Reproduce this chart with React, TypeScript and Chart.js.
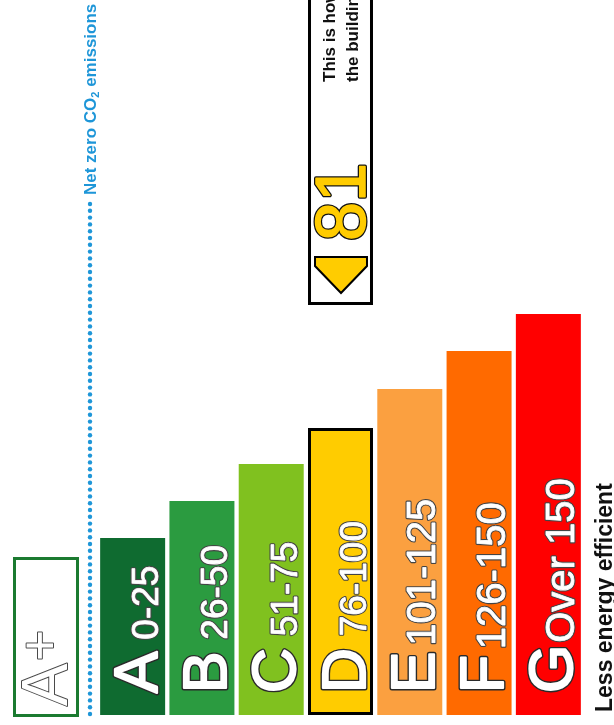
import React, { useEffect, useRef } from 'react';
import { Chart, registerables } from 'chart.js';

Chart.register(...registerables);

const W = 614;
const H = 725;
const FONT = '"Liberation Sans", Arial, sans-serif';

// ---- data ----
const BANDS = ['A', 'B', 'C', 'D', 'E', 'F', 'G'];
const RANGE_LABELS = ['0-25', '26-50', '51-75', '76-100', '101-125', '126-150', 'Over 150'];
const BAND_UPPER_LIMITS = [25, 50, 75, 100, 125, 150, Infinity];
const BAR_LENGTHS = [177, 214, 251, 287, 326, 364, 401];
const BAND_COLORS = ['#0f6b30', '#2b9b40', '#80c11f', '#ffcc00', '#fba040', '#ff6a00', '#ff0000'];
const RATING = 81;
const TOP_BAND = 'A';
const TOP_BAND_SUP = '+';
const NET_ZERO_PARTS = ['Net zero CO', '2', ' emissions'];
const LESS_LABEL = 'Less energy efficient';
const RATING_TEXT = ['This is how energy efficient', 'the building is.'];

// ---- styles ----
const RANGE_FONT = [37, 37, 37, 37, 40, 40, 40];
const RANGE_GAP = [12, 12, 12, 12, 6, 6, 2];

const ratingBand = BAND_UPPER_LIMITS.findIndex((u) => RATING <= u);

function rotText(
  ctx: CanvasRenderingContext2D,
  text: string,
  x: number,
  y: number,
  font: string,
  fill: string,
  stroke?: string,
  lw?: number,
  inner?: number
): number {
  ctx.save();
  ctx.translate(x, y);
  ctx.rotate(-Math.PI / 2);
  ctx.font = font;
  ctx.textAlign = 'left';
  ctx.textBaseline = 'alphabetic';
  ctx.lineJoin = 'round';
  if (stroke) {
    ctx.strokeStyle = stroke;
    ctx.lineWidth = lw || 2;
    ctx.strokeText(text, 0, 0);
  }
  if (inner) {
    ctx.strokeStyle = fill;
    ctx.lineWidth = inner;
    ctx.strokeText(text, 0, 0);
  }
  ctx.fillStyle = fill;
  ctx.fillText(text, 0, 0);
  const w = ctx.measureText(text).width;
  ctx.restore();
  return w;
}

const epcPlugin = {
  id: 'epcDecor',
  afterDatasetsDraw(chart: any) {
    const ctx: CanvasRenderingContext2D = chart.ctx;
    const area = chart.chartArea;
    const bottom = area.bottom;
    const meta = chart.getDatasetMeta(0);

    // band letters and ranges
    meta.data.forEach((bar: any, i: number) => {
      const cx = bar.x;
      const start = bottom - 22;
      const lw = rotText(ctx, BANDS[i], cx + 24, start, `62px ${FONT}`, '#ffffff', '#2a2a2a', 5, 2.2);
      rotText(
        ctx,
        RANGE_LABELS[i],
        cx + 25.5,
        start - lw - RANGE_GAP[i],
        `${RANGE_FONT[i]}px ${FONT}`,
        '#ffffff',
        '#444444',
        3,
        0.8
      );
    });

    // A+ box
    ctx.save();
    ctx.strokeStyle = '#1b7a30';
    ctx.lineWidth = 3;
    ctx.strokeRect(14.5, 558.5, 63, 157);
    ctx.restore();
    const aw = rotText(ctx, TOP_BAND, 67, 706, `64px ${FONT}`, '#ffffff', '#4a4a4a', 2);
    rotText(ctx, TOP_BAND_SUP, 58, 706 - aw - 2, `54px ${FONT}`, '#ffffff', '#4a4a4a', 2);

    // dotted net zero line
    ctx.save();
    ctx.fillStyle = '#1e96d8';
    for (let y = 714; y >= 204; y -= 6.8) {
      ctx.beginPath();
      ctx.arc(90, y, 2.2, 0, Math.PI * 2);
      ctx.fill();
    }
    ctx.restore();
    let ny = 195;
    ny -= rotText(ctx, NET_ZERO_PARTS[0], 96, ny, `bold 17px ${FONT}`, '#1e96d8');
    ny -= rotText(ctx, NET_ZERO_PARTS[1], 99, ny, `bold 11px ${FONT}`, '#1e96d8');
    rotText(ctx, NET_ZERO_PARTS[2], 96, ny, `bold 17px ${FONT}`, '#1e96d8');

    // rating box
    const rb = meta.data[ratingBand];
    const left = rb.x - rb.width / 2;
    const right = rb.x + rb.width / 2;
    ctx.save();
    ctx.strokeStyle = '#000000';
    ctx.lineWidth = 3;
    ctx.strokeRect(left + 1.5, -10, right - left - 3, 313.5);
    // pointer
    ctx.beginPath();
    ctx.moveTo(left + 7, 257);
    ctx.lineTo(right - 6, 257);
    ctx.lineTo(right - 6, 266);
    ctx.lineTo((left + right) / 2 + 0.5, 293);
    ctx.lineTo(left + 7, 266);
    ctx.closePath();
    ctx.fillStyle = '#ffcc00';
    ctx.fill();
    ctx.lineWidth = 2;
    ctx.lineJoin = 'miter';
    ctx.stroke();
    ctx.restore();
    rotText(ctx, String(RATING), left + 57, 241, `70px ${FONT}`, '#ffcc00', '#111111', 4, 1.5);
    rotText(ctx, RATING_TEXT[0], left + 27, 82, `bold 17px ${FONT}`, '#111111');
    rotText(ctx, RATING_TEXT[1], left + 50, 82, `bold 17px ${FONT}`, '#111111');

    // less efficient label
    rotText(ctx, LESS_LABEL, 612, 712, `bold 23px ${FONT}`, '#111111');
  },
};

export default function App() {
  const ref = useRef<HTMLCanvasElement | null>(null);
  useEffect(() => {
    if (!ref.current) return;
    const chart = new Chart(ref.current, {
      type: 'bar',
      data: {
        labels: BANDS,
        datasets: [
          {
            data: BAR_LENGTHS,
            backgroundColor: BAND_COLORS,
            borderColor: '#000000',
            borderWidth: BANDS.map((_, i) => (i === ratingBand ? 3 : 0)),
            borderSkipped: false,
            barPercentage: 0.938,
            categoryPercentage: 1,
          },
        ],
      },
      options: {
        animation: false,
        responsive: false,
        maintainAspectRatio: false,
        layout: { padding: { left: 98, right: 31, top: 0, bottom: 10 } },
        plugins: { legend: { display: false }, tooltip: { enabled: false } },
        scales: {
          x: { display: false, grid: { display: false } },
          y: { display: false, min: 0, max: 715 },
        },
      },
      plugins: [epcPlugin],
    } as any);
    return () => chart.destroy();
  }, []);
  return (
    <div style={{ position: 'fixed', left: 0, top: 0, width: W, height: H, background: '#fff' }}>
      <canvas ref={ref} width={W} height={H} style={{ width: W, height: H, display: 'block' }} />
    </div>
  );
}
